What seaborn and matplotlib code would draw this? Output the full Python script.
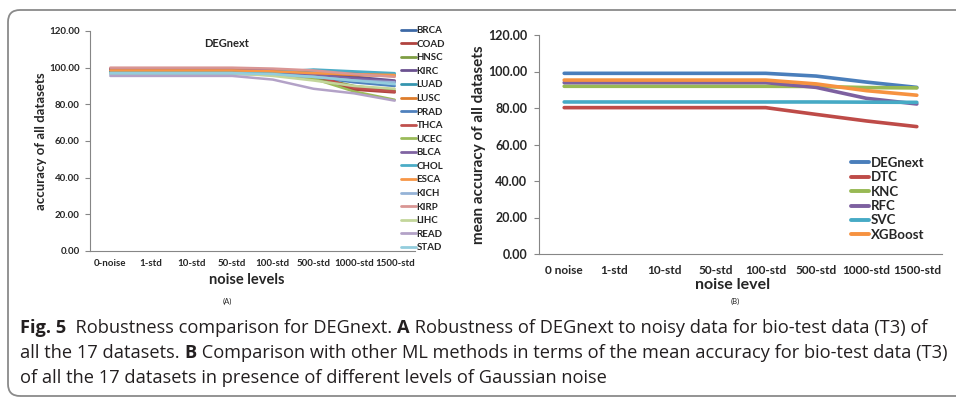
import numpy as np
import pandas as pd
import matplotlib
matplotlib.use("Agg")
import matplotlib.pyplot as plt
import seaborn as sns
from matplotlib.lines import Line2D
from matplotlib.patches import FancyBboxPatch
from matplotlib.transforms import IdentityTransform

# ---------------- data ----------------
levels_a = ['0-noise', '1-std', '10-std', '50-std', '100-std', '500-std', '1000-std', '1500-std']
levels_b = ['0 noise', '1-std', '10-std', '50-std', '100-std', '500-std', '1000-std', '1500-std']

datasets = ['BRCA', 'COAD', 'HNSC', 'KIRC', 'LUAD', 'LUSC', 'PRAD', 'THCA', 'UCEC',
            'BLCA', 'CHOL', 'ESCA', 'KICH', 'KIRP', 'LIHC', 'READ', 'STAD']
BRCA = [99.0, 99.0, 99.0, 99.0, 99.0, 97.0, 94.0, 92.0]
COAD = [99.0, 99.0, 99.0, 99.0, 98.5, 95.0, 88.0, 86.5]
HNSC = [97.5, 97.5, 97.5, 97.5, 97.0, 95.0, 90.0, 87.5]
KIRC = [99.0, 99.0, 99.0, 99.0, 98.5, 96.5, 95.0, 93.0]
LUAD = [98.0, 98.0, 98.0, 98.0, 98.0, 98.5, 97.5, 96.5]
LUSC = [98.5, 98.5, 98.5, 98.5, 98.0, 97.0, 96.0, 95.5]
PRAD = [98.0, 98.0, 98.0, 98.0, 97.5, 95.0, 92.0, 90.0]
THCA = [99.5, 99.5, 99.5, 99.5, 99.0, 96.0, 89.0, 87.0]
UCEC = [97.0, 97.0, 97.0, 97.0, 96.5, 94.0, 87.0, 82.5]
BLCA = [99.0, 99.0, 99.0, 99.0, 98.5, 96.0, 94.0, 92.5]
CHOL = [97.5, 97.5, 97.5, 97.5, 97.5, 99.0, 98.0, 97.0]
ESCA = [98.5, 98.5, 98.5, 98.5, 98.0, 97.0, 96.5, 96.0]
KICH = [96.5, 96.5, 96.5, 96.5, 96.0, 95.0, 93.0, 92.0]
KIRP = [100.0, 100.0, 100.0, 100.0, 99.5, 98.5, 96.5, 95.0]
LIHC = [97.0, 97.0, 97.0, 97.0, 95.5, 93.0, 90.0, 88.5]
READ = [95.5, 95.5, 95.5, 95.5, 93.5, 88.5, 86.0, 82.0]
STAD = [97.0, 97.0, 97.0, 97.0, 96.5, 95.0, 93.0, 91.0]
values_a = [BRCA, COAD, HNSC, KIRC, LUAD, LUSC, PRAD, THCA, UCEC,
            BLCA, CHOL, ESCA, KICH, KIRP, LIHC, READ, STAD]
colors_a = ['#3D69A6', '#B0433F', '#7E9E43', '#6B5290', '#3595AF', '#DE7D2C',
            '#4F81BD', '#C0504D', '#9BBB59', '#8064A2', '#4BACC6', '#F79646',
            '#95B3D7', '#D99694', '#C3D69B', '#B3A2C7', '#93CDDD']

methods = ['DEGnext', 'DTC', 'KNC', 'RFC', 'SVC', 'XGBoost']
DEGnext = [99.0, 99.0, 99.0, 99.0, 99.0, 97.5, 94.2, 91.3]
DTC = [80.2, 80.2, 80.2, 80.2, 80.2, 76.5, 72.9, 69.8]
KNC = [91.9, 91.9, 91.9, 91.9, 91.9, 91.8, 91.2, 91.0]
RFC = [93.9, 93.9, 93.9, 93.9, 93.9, 91.3, 85.3, 82.2]
SVC = [83.3, 83.3, 83.3, 83.3, 83.3, 83.3, 83.2, 83.1]
XGBoost = [95.3, 95.3, 95.3, 95.3, 95.3, 93.2, 89.5, 87.0]
values_b = [DEGnext, DTC, KNC, RFC, SVC, XGBoost]
colors_b = ['#4A7EBB', '#BE4B48', '#98B954', '#7D60A0', '#46AAC5', '#F69240']

y_ticks = [0, 20, 40, 60, 80, 100, 120]

# ---------------- frames ----------------
df_a = pd.DataFrame([(lv, d, v) for d, vals in zip(datasets, values_a)
                     for lv, v in zip(levels_a, vals)],
                    columns=['level', 'dataset', 'acc'])
df_b = pd.DataFrame([(lv, m, v) for m, vals in zip(methods, values_b)
                     for lv, v in zip(levels_b, vals)],
                    columns=['level', 'method', 'acc'])

sns.set_theme(style='white')
plt.rcParams['font.family'] = ['Lato', 'DejaVu Sans']
plt.rcParams['axes.linewidth'] = 0.8

W, H = 956, 398
fig = plt.figure(figsize=(W / 100, H / 100), dpi=100)

def px_axes(l, t, r, b):
    return fig.add_axes([l / W, 1 - b / H, (r - l) / W, (b - t) / H])

axA = px_axes(90, 31, 415, 251)
axB = px_axes(539, 35, 942, 254)

sns.lineplot(data=df_a, x='level', y='acc', hue='dataset', hue_order=datasets,
             palette=dict(zip(datasets, colors_a)), sort=False, linewidth=1.8,
             legend=False, ax=axA)
sns.lineplot(data=df_b, x='level', y='acc', hue='method', hue_order=methods,
             palette=dict(zip(methods, colors_b)), sort=False, linewidth=2.6,
             legend=False, ax=axB)

spine_c = '#868686'
for ax, fs, pad_x, pad_y in [(axA, 7, 6, 4), (axB, 8.6, 8, 5)]:
    ax.set_xlim(-0.5, 7.5)
    ax.set_ylim(0, 120)
    ax.set_yticks(y_ticks)
    ax.set_yticklabels([f'{v:.2f}' for v in y_ticks], fontsize=fs + (0.4 if ax is axB else 0),
                       fontweight='bold')
    ax.set_xticks(np.arange(8))
    ax.set_xticks(np.arange(-0.5, 8, 1), minor=True)
    for lab in ax.get_xticklabels():
        lab.set_fontsize(fs)
        lab.set_fontweight('bold')
    ax.tick_params(axis='x', which='major', length=0, pad=pad_x)
    ax.tick_params(axis='x', which='minor', length=4, width=0.8, color=spine_c, direction='out')
    ax.tick_params(axis='y', which='major', length=3.5, width=0.8, color=spine_c,
                   direction='out', left=True, pad=pad_y)
    for s in ['top', 'right']:
        ax.spines[s].set_visible(False)
    for s in ['left', 'bottom']:
        ax.spines[s].set_color(spine_c)
    ax.grid(False)

axA.set_xlabel('noise levels', fontsize=10.5, fontweight='bold')
axA.set_ylabel('accuracy of all datasets', fontsize=9.5, fontweight='bold')
axA.xaxis.set_label_coords(0.483, -0.100)
axA.yaxis.set_label_coords(-0.133, 0.5)
axA.text(0.42, 0.945, 'DEGnext', transform=axA.transAxes, ha='center', va='center',
         fontsize=8, fontweight='bold')
fig.text(227 / W, 1 - 301 / H, '(A)', ha='center', va='center', fontsize=5.5)

axB.set_xlabel('noise level', fontsize=11.5, fontweight='bold')
axB.set_ylabel('mean accuracy of all datasets', fontsize=11, fontweight='bold')
axB.xaxis.set_label_coords(0.481, -0.110)
axB.yaxis.set_label_coords(-0.132, 0.5)
fig.text(735 / W, 1 - 301 / H, '(B)', ha='center', va='center', fontsize=5.5)

hA = [Line2D([], [], color=c, lw=2.0) for c in colors_a]
axA.legend(hA, datasets, loc='upper left', bbox_to_anchor=((401 - 90) / 325, 1.022),
           frameon=False, prop={'size': 7, 'weight': 'bold'}, handlelength=1.5,
           handletextpad=0.1, labelspacing=0.47, borderaxespad=0, borderpad=0)
hB = [Line2D([], [], color=c, lw=2.8) for c in colors_b]
axB.legend(hB, methods, loc='upper left', bbox_to_anchor=((851 - 539) / 403, (254 - 157) / 219),
           frameon=False, prop={'size': 9.5, 'weight': 'bold'}, handlelength=1.4,
           handletextpad=0.1, labelspacing=0.18, borderaxespad=0, borderpad=0)

# ---------------- frame box ----------------
box = FancyBboxPatch((8, 2), 990, 386, boxstyle='round,pad=0,rounding_size=12',
                     transform=IdentityTransform(), facecolor='none',
                     edgecolor='#8a8a8a', linewidth=1.3)
fig.add_artist(box)

# ---------------- caption ----------------
cap_family = ['Liberation Sans Narrow', 'Open Sans', 'DejaVu Sans']
cap_color = '#231f20'
lines = [
    [('Fig. 5', 'bold'), ('  Robustness comparison for DEGnext. ', 'normal'), ('A', 'bold'),
     (' Robustness of DEGnext to noisy data for bio-test data (T3) of', 'normal')],
    [('all the 17 datasets. ', 'normal'), ('B', 'bold'),
     (' Comparison with other ML methods in terms of the mean accuracy for bio-test data (T3)', 'normal')],
    [('of all the 17 datasets in presence of different levels of Gaussian noise', 'normal')],
]
targets = [920, 926]
renderer = fig.canvas.get_renderer()

def run_width(s, w, size):
    t = fig.text(0, 0, s.replace(' ', '\u00a0') + '|', fontsize=size, fontweight=w, family=cap_family)
    t2 = fig.text(0, 0, '|', fontsize=size, fontweight=w, family=cap_family)
    wd = t.get_window_extent(renderer).width - t2.get_window_extent(renderer).width
    t.remove(); t2.remove()
    return wd

base = 12.0
cap_size = min(base * tw / sum(run_width(s, w, base) for s, w in lines[i])
               for i, tw in enumerate(targets))
ys = [328, 353, 378]
for runs, yp in zip(lines, ys):
    x = 20.0
    for s, w in runs:
        fig.text(x / W, 1 - yp / H, s.replace(' ', '\u00a0'), fontsize=cap_size, fontweight=w,
                 family=cap_family, color=cap_color, ha='left', va='center')
        x += run_width(s, w, cap_size)

fig.savefig('out.png', dpi=100)
